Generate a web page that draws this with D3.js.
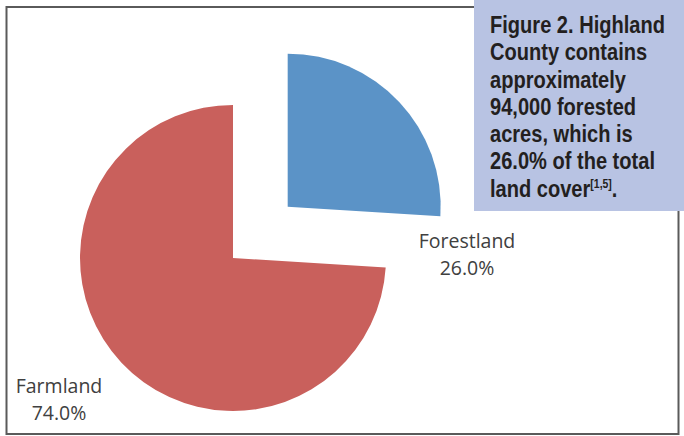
<!DOCTYPE html>
<html>
<head>
<meta charset="utf-8">
<script src="https://cdn.jsdelivr.net/npm/d3@7"></script>
<style>
  body { margin: 0; background: white; }
</style>
</head>
<body>
<div id="chart"></div>
<script>
// Data
const categories = ["Forestland", "Farmland"];
const values = [26.0, 74.0];
const colors = ["#5b93c7", "#c9605c"];
const captionLines = [
  "Figure 2. Highland",
  "County contains",
  "approximately",
  "94,000 forested",
  "acres, which is",
  "26.0% of the total",
  "land cover"
];
const captionSup = "[1,5]";

let width = 684, height = 436;

let svg = d3.select('#chart')
  .append('svg')
  .attr('width', width)
  .attr('height', height)
  .style('background', 'white');

// outer frame
svg.append('rect')
  .attr('x', 6.5)
  .attr('y', 7)
  .attr('width', 672)
  .attr('height', 427)
  .attr('fill', 'white')
  .attr('stroke', '#5a5a5a')
  .attr('stroke-width', 2);

// pie
const cx = 233, cy = 258, radius = 153, explode = 75;

const pie = d3.pie().sort(null).value(d => d.value);
const arcs = pie(categories.map((c, i) => ({ name: c, value: values[i], color: colors[i] })));

const arc = d3.arc().innerRadius(0).outerRadius(radius);

const g = svg.append('g').attr('transform', `translate(${cx},${cy})`);

g.selectAll('path')
  .data(arcs)
  .enter()
  .append('path')
  .attr('d', arc)
  .attr('fill', d => d.data.color)
  .attr('transform', d => {
    if (d.data.name !== "Forestland") return null;
    const mid = (d.startAngle + d.endAngle) / 2;
    return `translate(${Math.sin(mid) * explode},${-Math.cos(mid) * explode})`;
  });

// data labels
const labelPos = { Forestland: [467, 248], Farmland: [59, 393] };
arcs.forEach(d => {
  const [lx, ly] = labelPos[d.data.name];
  const t = svg.append('text')
    .attr('x', lx)
    .attr('y', ly)
    .attr('text-anchor', 'middle')
    .style('font-family', '"Open Sans", sans-serif')
    .style('font-size', '19.5px')
    .style('fill', '#404040');
  t.append('tspan').attr('x', lx).text(d.data.name);
  t.append('tspan').attr('x', lx).attr('dy', 27).text(d.data.value.toFixed(1) + '%');
});

// caption box
svg.append('rect')
  .attr('x', 474)
  .attr('y', 0)
  .attr('width', 210)
  .attr('height', 211)
  .attr('fill', '#b8c3e3');

// condensed bold text: squeeze Liberation Sans Bold horizontally
const capG = svg.append('g');
const cap = capG.append('text')
  .style('font-family', '"Liberation Sans", Arial, sans-serif')
  .style('font-weight', 'bold')
  .style('font-size', '23px')
  .style('fill', '#231f20');

captionLines.forEach((line, i) => {
  cap.append('tspan')
    .attr('x', 0)
    .attr('y', 33 + i * 27.3)
    .text(line);
});
cap.append('tspan')
  .attr('dy', -9)
  .style('font-size', '12px')
  .text(captionSup);
cap.append('tspan')
  .attr('dy', 9)
  .text('.');

// scale so the first line spans about 175px
const firstW = cap.select('tspan').node().getComputedTextLength();
const sx = 175 / firstW;
capG.attr('transform', `translate(490,0) scale(${sx},1)`);
</script>
</body>
</html>
